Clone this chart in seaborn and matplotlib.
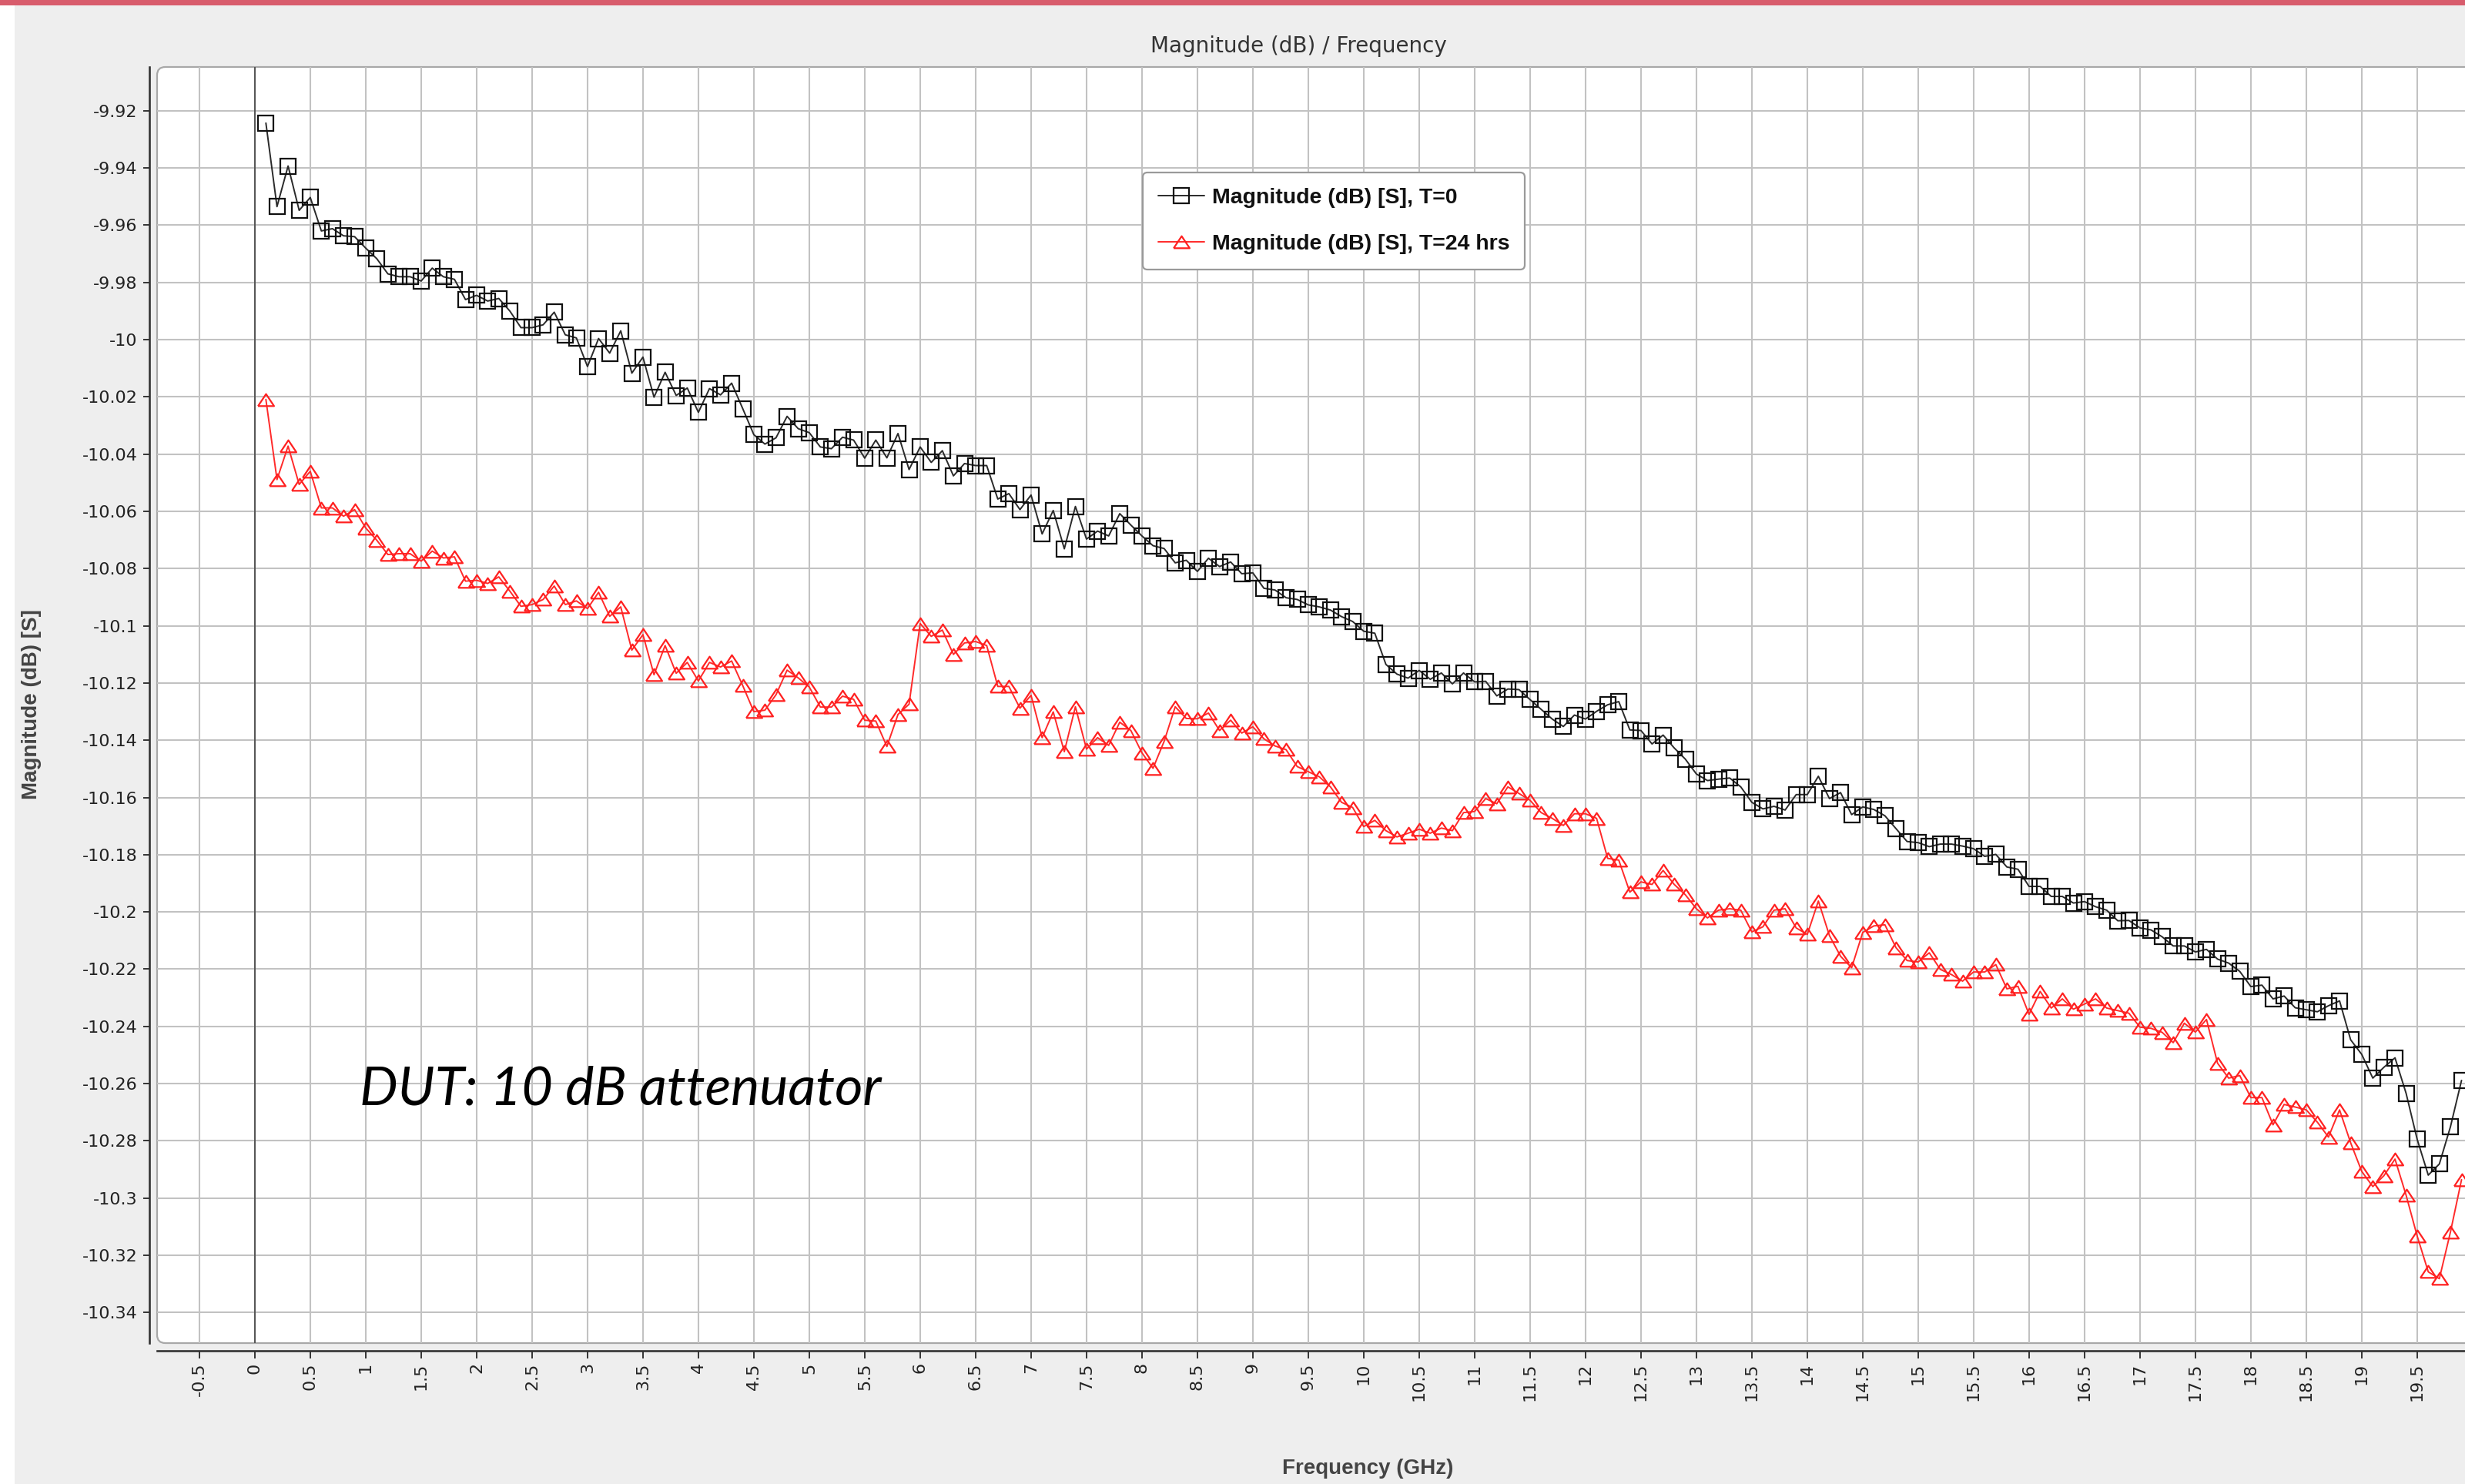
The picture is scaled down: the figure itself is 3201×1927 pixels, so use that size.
import numpy as np
import pandas as pd
import matplotlib
matplotlib.use("Agg")
import matplotlib.pyplot as plt
import seaborn as sns
from matplotlib.patches import FancyBboxPatch, Rectangle
from matplotlib.lines import Line2D
from matplotlib.ticker import FuncFormatter
from matplotlib.font_manager import FontProperties

# ---------------- data ----------------
freq_ghz = [
    0.1, 0.2, 0.3, 0.4, 0.5, 0.6, 0.7, 0.8, 0.9, 1.0,
    1.1, 1.2, 1.3, 1.4, 1.5, 1.6, 1.7, 1.8, 1.9, 2.0,
    2.1, 2.2, 2.3, 2.4, 2.5, 2.6, 2.7, 2.8, 2.9, 3.0,
    3.1, 3.2, 3.3, 3.4, 3.5, 3.6, 3.7, 3.8, 3.9, 4.0,
    4.1, 4.2, 4.3, 4.4, 4.5, 4.6, 4.7, 4.8, 4.9, 5.0,
    5.1, 5.2, 5.3, 5.4, 5.5, 5.6, 5.7, 5.8, 5.9, 6.0,
    6.1, 6.2, 6.3, 6.4, 6.5, 6.6, 6.7, 6.8, 6.9, 7.0,
    7.1, 7.2, 7.3, 7.4, 7.5, 7.6, 7.7, 7.8, 7.9, 8.0,
    8.1, 8.2, 8.3, 8.4, 8.5, 8.6, 8.7, 8.8, 8.9, 9.0,
    9.1, 9.2, 9.3, 9.4, 9.5, 9.6, 9.7, 9.8, 9.9, 10.0,
    10.1, 10.2, 10.3, 10.4, 10.5, 10.6, 10.7, 10.8, 10.9, 11.0,
    11.1, 11.2, 11.3, 11.4, 11.5, 11.6, 11.7, 11.8, 11.9, 12.0,
    12.1, 12.2, 12.3, 12.4, 12.5, 12.6, 12.7, 12.8, 12.9, 13.0,
    13.1, 13.2, 13.3, 13.4, 13.5, 13.6, 13.7, 13.8, 13.9, 14.0,
    14.1, 14.2, 14.3, 14.4, 14.5, 14.6, 14.7, 14.8, 14.9, 15.0,
    15.1, 15.2, 15.3, 15.4, 15.5, 15.6, 15.7, 15.8, 15.9, 16.0,
    16.1, 16.2, 16.3, 16.4, 16.5, 16.6, 16.7, 16.8, 16.9, 17.0,
    17.1, 17.2, 17.3, 17.4, 17.5, 17.6, 17.7, 17.8, 17.9, 18.0,
    18.1, 18.2, 18.3, 18.4, 18.5, 18.6, 18.7, 18.8, 18.9, 19.0,
    19.1, 19.2, 19.3, 19.4, 19.5, 19.6, 19.7, 19.8, 19.9,
]

mag_t0 = [
    -9.9243, -9.9535, -9.9393, -9.9548, -9.9503, -9.9620, -9.9612, -9.9637, -9.9640, -9.9680,
    -9.9717, -9.9770, -9.9780, -9.9780, -9.9795, -9.9750, -9.9780, -9.9789, -9.9860, -9.9845,
    -9.9865, -9.9856, -9.9900, -9.9958, -9.9958, -9.9948, -9.9904, -9.9983, -9.9994, -10.0094,
    -9.9996, -10.0047, -9.9969, -10.0117, -10.0061, -10.0201, -10.0114, -10.0195, -10.0169, -10.0254,
    -10.0171, -10.0193, -10.0152, -10.0241, -10.0332, -10.0365, -10.0343, -10.0268, -10.0311, -10.0325,
    -10.0375, -10.0381, -10.0341, -10.0351, -10.0414, -10.0351, -10.0413, -10.0328, -10.0454, -10.0375,
    -10.0429, -10.0388, -10.0476, -10.0433, -10.0440, -10.0440, -10.0557, -10.0538, -10.0594, -10.0543,
    -10.0679, -10.0597, -10.0731, -10.0583, -10.0697, -10.0669, -10.0686, -10.0608, -10.0648, -10.0686,
    -10.0720, -10.0730, -10.0780, -10.0771, -10.0810, -10.0764, -10.0793, -10.0777, -10.0818, -10.0815,
    -10.0869, -10.0875, -10.0902, -10.0908, -10.0927, -10.0934, -10.0945, -10.0968, -10.0985, -10.1019,
    -10.1026, -10.1135, -10.1169, -10.1183, -10.1156, -10.1187, -10.1165, -10.1203, -10.1165, -10.1196,
    -10.1194, -10.1245, -10.1221, -10.1223, -10.1258, -10.1292, -10.1326, -10.1352, -10.1312, -10.1326,
    -10.1299, -10.1276, -10.1265, -10.1364, -10.1366, -10.1413, -10.1382, -10.1427, -10.1466, -10.1518,
    -10.1541, -10.1536, -10.1532, -10.1563, -10.1617, -10.1640, -10.1631, -10.1644, -10.1590, -10.1590,
    -10.1526, -10.1604, -10.1583, -10.1660, -10.1633, -10.1642, -10.1664, -10.1709, -10.1754, -10.1758,
    -10.1772, -10.1763, -10.1763, -10.1770, -10.1779, -10.1806, -10.1799, -10.1843, -10.1851, -10.1911,
    -10.1911, -10.1946, -10.1946, -10.1969, -10.1964, -10.1982, -10.1994, -10.2031, -10.2030, -10.2056,
    -10.2063, -10.2087, -10.2119, -10.2119, -10.2140, -10.2131, -10.2165, -10.2179, -10.2208, -10.2261,
    -10.2256, -10.2304, -10.2294, -10.2335, -10.2342, -10.2349, -10.2328, -10.2311, -10.2447, -10.2498,
    -10.2581, -10.2543, -10.2510, -10.2634, -10.2795, -10.2920, -10.2881, -10.2751, -10.2589,
]

mag_t24 = [
    -10.0209, -10.0489, -10.0372, -10.0506, -10.0460, -10.0588, -10.0588, -10.0617, -10.0594, -10.0658,
    -10.0701, -10.0751, -10.0748, -10.0748, -10.0774, -10.0739, -10.0763, -10.0759, -10.0844, -10.0841,
    -10.0852, -10.0829, -10.0879, -10.0932, -10.0926, -10.0908, -10.0861, -10.0926, -10.0913, -10.0940,
    -10.0883, -10.0967, -10.0934, -10.1085, -10.1031, -10.1171, -10.1069, -10.1166, -10.1128, -10.1193,
    -10.1128, -10.1144, -10.1123, -10.1209, -10.1300, -10.1295, -10.1241, -10.1155, -10.1182, -10.1214,
    -10.1284, -10.1284, -10.1246, -10.1257, -10.1330, -10.1333, -10.1422, -10.1310, -10.1274, -10.0992,
    -10.1037, -10.1015, -10.1100, -10.1060, -10.1055, -10.1069, -10.1212, -10.1212, -10.1288, -10.1243,
    -10.1391, -10.1301, -10.1440, -10.1283, -10.1431, -10.1391, -10.1418, -10.1337, -10.1366, -10.1444,
    -10.1498, -10.1404, -10.1283, -10.1324, -10.1325, -10.1305, -10.1366, -10.1330, -10.1375, -10.1353,
    -10.1395, -10.1420, -10.1433, -10.1492, -10.1510, -10.1528, -10.1563, -10.1617, -10.1635, -10.1702,
    -10.1680, -10.1716, -10.1738, -10.1725, -10.1711, -10.1725, -10.1707, -10.1716, -10.1653, -10.1649,
    -10.1604, -10.1622, -10.1563, -10.1586, -10.1610, -10.1653, -10.1673, -10.1698, -10.1657, -10.1657,
    -10.1673, -10.1813, -10.1819, -10.1931, -10.1895, -10.1904, -10.1855, -10.1904, -10.1940, -10.1989,
    -10.2021, -10.1994, -10.1989, -10.1994, -10.2070, -10.2052, -10.1994, -10.1989, -10.2056, -10.2079,
    -10.1962, -10.2083, -10.2155, -10.2195, -10.2072, -10.2049, -10.2045, -10.2125, -10.2170, -10.2175,
    -10.2143, -10.2201, -10.2219, -10.2242, -10.2210, -10.2210, -10.2184, -10.2269, -10.2260, -10.2358,
    -10.2278, -10.2336, -10.2304, -10.2340, -10.2322, -10.2304, -10.2336, -10.2345, -10.2354, -10.2403,
    -10.2407, -10.2421, -10.2457, -10.2389, -10.2420, -10.2376, -10.2529, -10.2581, -10.2572, -10.2649,
    -10.2649, -10.2744, -10.2673, -10.2682, -10.2692, -10.2735, -10.2787, -10.2692, -10.2807, -10.2907,
    -10.2960, -10.2922, -10.2864, -10.2990, -10.3133, -10.3258, -10.3282, -10.3119, -10.2936,
]

series_labels = ["Magnitude (dB) [S], T=0", "Magnitude (dB) [S], T=24 hrs"]

x_ticks = [-0.5, 0, 0.5, 1, 1.5, 2, 2.5, 3, 3.5, 4, 4.5, 5, 5.5, 6, 6.5, 7, 7.5, 8,
           8.5, 9, 9.5, 10, 10.5, 11, 11.5, 12, 12.5, 13, 13.5, 14, 14.5, 15, 15.5,
           16, 16.5, 17, 17.5, 18, 18.5, 19, 19.5]
y_ticks = [-9.92, -9.94, -9.96, -9.98, -10.0, -10.02, -10.04, -10.06, -10.08, -10.1,
           -10.12, -10.14, -10.16, -10.18, -10.2, -10.22, -10.24, -10.26, -10.28,
           -10.3, -10.32, -10.34]

title_text = "Magnitude (dB) / Frequency"
x_label = "Frequency (GHz)"
y_label = "Magnitude (dB) [S]"
note_text = "DUT: 10 dB attenuator"

# ---------------- style ----------------
sns.set_theme(style="white")
plt.rcParams["font.family"] = ["DejaVu Sans"]

W, H = 3201, 1927
fig = plt.figure(figsize=(W / 100, H / 100), dpi=100, facecolor="#eeeeee")

# left white strip and top pink band
fig.patches.append(Rectangle((0, 0), 19 / W, 1, transform=fig.transFigure,
                             facecolor="white", edgecolor="none", zorder=0))
fig.patches.append(Rectangle((0, 1 - 7 / H), 1, 7 / H, transform=fig.transFigure,
                             facecolor="#d85c6c", edgecolor="none", zorder=0))

L, R, T, B = 204, 3241, 87, 1744
ax = fig.add_axes([L / W, 1 - B / H, (R - L) / W, (B - T) / H])
ax.patch.set_visible(False)

# rounded white plot frame
frame = FancyBboxPatch((0, 0), 1, 1, boxstyle="round,pad=0,rounding_size=0.0035",
                       mutation_aspect=(R - L) / (B - T),
                       transform=ax.transAxes, facecolor="white",
                       edgecolor="#a8a8a8", linewidth=1.6, zorder=0, clip_on=False)
ax.add_patch(frame)

df = pd.DataFrame({"freq": freq_ghz, "t0": mag_t0, "t24": mag_t24})

tri = [(-1.0, -0.75), (1.0, -0.75), (0.0, 0.75), (-1.0, -0.75)]

sns.lineplot(data=df, x="freq", y="t0", ax=ax, color="#2a2a2a", linewidth=1.4,
             marker="s", markersize=14, markerfacecolor="none",
             markeredgecolor="#111111", markeredgewidth=1.6, legend=False,
             errorbar=None, zorder=4)
sns.lineplot(data=df, x="freq", y="t24", ax=ax, color="#ff2a2a", linewidth=1.4,
             marker=tri, markersize=15, markerfacecolor="none",
             markeredgecolor="#ff2020", markeredgewidth=1.6, legend=False,
             errorbar=None, zorder=3)

# zero line
ax.axvline(0, color="#555555", linewidth=1.4, zorder=2)

ax.set_xlim((L - 330.9) / 144.0, (R - 330.9) / 144.0)
ax.set_ylim(-10.3507, -9.9047)
ax.set_xticks(x_ticks)
ax.set_yticks(y_ticks)
fmt = FuncFormatter(lambda v, p: "%g" % round(v, 4))
ax.xaxis.set_major_formatter(fmt)
ax.yaxis.set_major_formatter(fmt)
ax.grid(True, color="#c2c2c2", linewidth=1.5, zorder=1)
ax.set_axisbelow(True)

for s in ["top", "right"]:
    ax.spines[s].set_visible(False)
for s in ["left", "bottom"]:
    ax.spines[s].set_visible(True)
    ax.spines[s].set_color("#333333")
    ax.spines[s].set_linewidth(1.9)
    ax.spines[s].set_position(("outward", 7.2))

ax.tick_params(axis="y", direction="out", length=6, width=1.4, color="#333333",
               labelsize=16, labelcolor="#222222", pad=5, left=True)
ax.tick_params(axis="x", direction="out", length=7, width=1.4, color="#333333",
               labelsize=16, labelcolor="#222222", pad=4, labelrotation=90, bottom=True)
ax.set_xlabel("")
ax.set_ylabel("")

# legend
handles = [
    Line2D([], [], color="#2a2a2a", linewidth=1.4, marker="s", markersize=14,
           markerfacecolor="none", markeredgecolor="#111111", markeredgewidth=1.6),
    Line2D([], [], color="#ff2a2a", linewidth=1.4, marker=tri, markersize=15,
           markerfacecolor="none", markeredgecolor="#ff2020", markeredgewidth=1.6),
]
leg = ax.legend(handles, series_labels, loc="upper left",
                bbox_to_anchor=(1484 / W, 1 - 224 / H), bbox_transform=fig.transFigure,
                prop=FontProperties(family="Liberation Sans", weight="bold", size=20.5),
                frameon=True, fancybox=True, framealpha=1, facecolor="white",
                edgecolor="#9a9a9a", borderpad=0.7, labelspacing=1.2,
                handlelength=2.1, handletextpad=0.35, borderaxespad=0)
leg.get_frame().set_linewidth(1.6)
leg.set_zorder(10)
for t in leg.get_texts():
    t.set_color("#111111")

# texts
fig.text(1686 / W, 1 - 60 / H, title_text, ha="center", va="center",
         fontsize=20, color="#333333")
fig.text(1776 / W, 1 - 1907 / H, x_label, ha="center", va="center",
         fontproperties=FontProperties(family="Liberation Sans", weight="bold", size=20),
         color="#444444")
fig.text(41 / W, 1 - 915 / H, y_label, ha="center", va="center", rotation=90,
         fontproperties=FontProperties(family="Liberation Sans", weight="bold", size=20),
         color="#444444")
fig.text(467 / W, 1 - 1415 / H, note_text, ha="left", va="center",
         fontproperties=FontProperties(family="Lato", style="italic", size=50.5),
         color="#000000")

fig.savefig("out.png", dpi=100, facecolor=fig.get_facecolor())
